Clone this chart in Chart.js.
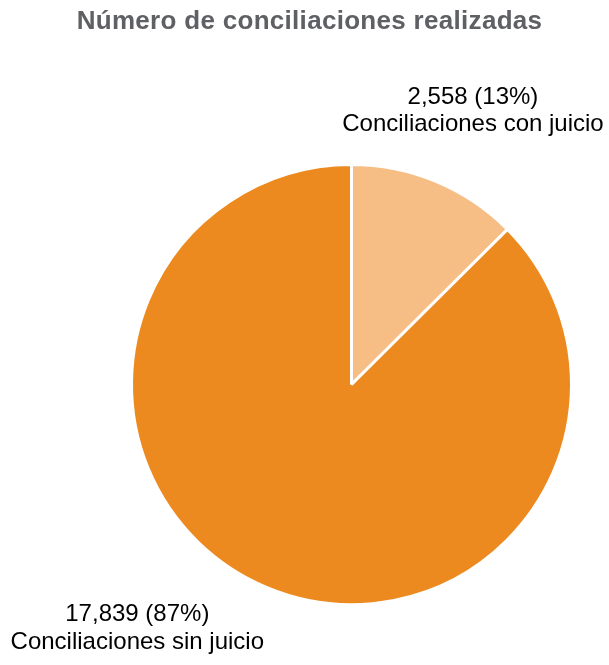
<!DOCTYPE html>
<html>
<head>
<meta charset="utf-8">
<script src="https://cdn.jsdelivr.net/npm/chart.js@4.4.0/dist/chart.umd.min.js"></script>
<style>
    html, body { margin: 0; padding: 0; background: #ffffff; }
    #contenedor { width: 609px; height: 665px; }
</style>
</head>
<body>
<div id="contenedor"><canvas id="diagrama"></canvas></div>
<script>
const titulo = 'Número de conciliaciones realizadas';
const categorias = ['Conciliaciones con juicio', 'Conciliaciones sin juicio'];
const totales = [2558, 17839];
const porcentajes = ['13%', '87%'];
const colores = ['#F6BE85', '#EC8A1F'];

// titulo centrado en todo el lienzo (no sobre el area del pastel)
const tituloPlugin = {
    id: 'tituloCentrado',
    afterDraw(chart) {
        const ctx = chart.ctx;
        ctx.save();
        ctx.font = 'bold 26px "Liberation Sans", Arial, sans-serif';
        ctx.letterSpacing = '0.3px';
        ctx.fillStyle = '#5F6064';
        ctx.textAlign = 'center';
        ctx.textBaseline = 'middle';
        ctx.fillText(titulo, chart.width / 2 + 5, 22);
        ctx.restore();
    }
};

// etiquetas fuera del pastel: valor (porcentaje) y nombre
const etiquetasPlugin = {
    id: 'etiquetas',
    afterDatasetsDraw(chart) {
        const ctx = chart.ctx;
        const arcos = chart.getDatasetMeta(0).data;
        ctx.save();
        ctx.font = '24px "Liberation Sans", Arial, sans-serif';
        ctx.fillStyle = '#000000';
        ctx.textBaseline = 'middle';
        ctx.textAlign = 'center';
        arcos.forEach((arco, i) => {
            const medio = (arco.startAngle + arco.endAngle) / 2;
            const px = arco.x + Math.cos(medio) * arco.outerRadius;
            const py = arco.y + Math.sin(medio) * arco.outerRadius;
            const linea1 = totales[i].toLocaleString('en-US') + ' (' + porcentajes[i] + ')';
            const linea2 = categorias[i];
            if (py < arco.y) {
                ctx.fillText(linea1, px + 37, py - 84);
                ctx.fillText(linea2, px + 37, py - 57);
            } else {
                const w = ctx.measureText(linea2).width;
                ctx.fillText(linea1, px - 3 - w / 2, py + 27);
                ctx.fillText(linea2, px - 3 - w / 2, py + 55);
            }
        });
        ctx.restore();
    }
};

document.addEventListener('DOMContentLoaded', function() {
    const canva = document.getElementById('diagrama');

    new Chart(canva, {
        type: 'pie',
        data: {
            labels: categorias,
            datasets: [{
                data: totales,
                backgroundColor: colores,
                borderColor: '#ffffff',
                borderWidth: 3
            }]
        },
        options: {
            responsive: true,
            maintainAspectRatio: false,
            animation: false,
            layout: {
                padding: { left: 130, right: 36, top: 163, bottom: 59 }
            },
            plugins: {
                legend: { display: false },
                tooltip: { enabled: false },
                title: { display: false }
            }
        },
        plugins: [etiquetasPlugin, tituloPlugin]
    });
});
</script>
</body>
</html>
